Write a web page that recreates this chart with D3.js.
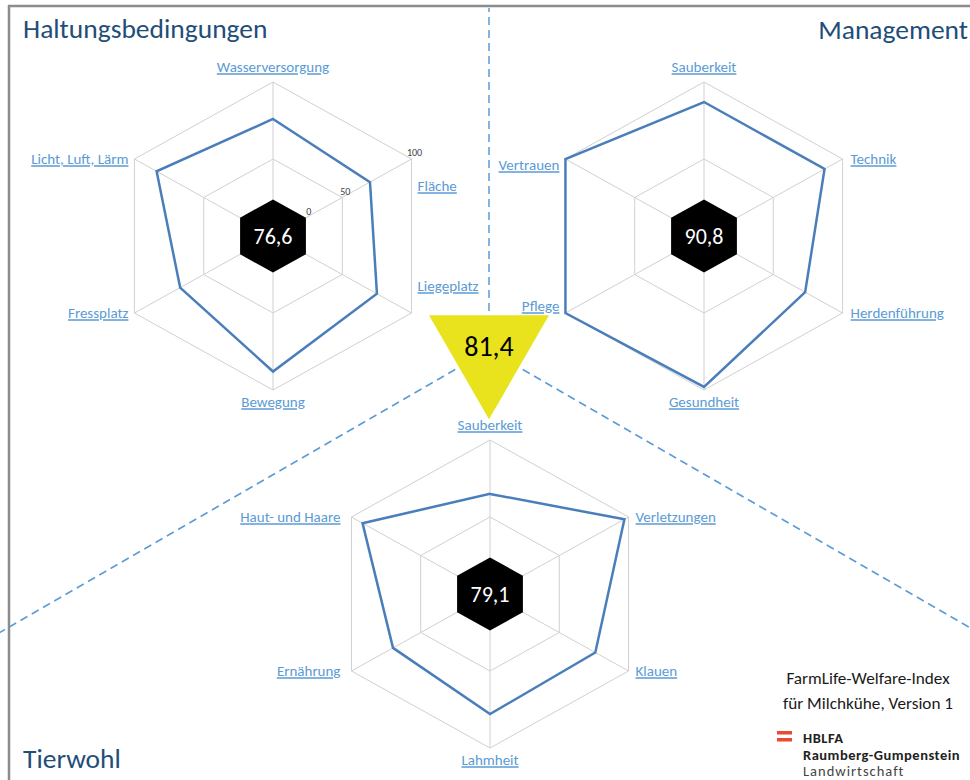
<!DOCTYPE html>
<html>
<head>
<meta charset="utf-8">
<script src="https://cdn.jsdelivr.net/npm/d3@7"></script>
<style>
  body { margin: 0; background: #fff; }
  svg { display: block; font-family: Carlito, Calibri, Lato, sans-serif; }
  .grid { fill: none; stroke: #d0d0d0; stroke-width: 1; }
  .series { fill: none; stroke: #4a7ebb; stroke-width: 2.5; stroke-linejoin: miter; }
  .cat { fill: #5b9bd5; font-size: 15px; text-decoration: underline; }
  .tick { fill: #404040; font-size: 10px; }
  .title { fill: #1f4e79; font-size: 27.5px; }
  .divider { stroke: #5b9bd5; stroke-width: 1.5; stroke-dasharray: 8 5; fill: none; }
</style>
</head>
<body>
<div id="chart"></div>
<script>
// categories and values
const haltungLabels = ["Wasserversorgung", "Fläche", "Liegeplatz", "Bewegung", "Fressplatz", "Licht, Luft, Lärm"];
const haltungValues = [76, 70, 75, 88, 67, 84];

const managementLabels = ["Sauberkeit", "Technik", "Herdenführung", "Gesundheit", "Pflege", "Vertrauen"];
const managementValues = [87, 87, 73, 98, 100, 100];

const tierwohlLabels = ["Sauberkeit", "Verletzungen", "Klauen", "Lahmheit", "Ernährung", "Haut- und Haare"];
const tierwohlValues = [65, 97, 76, 78, 70, 92];

const sectionTitles = ["Haltungsbedingungen", "Management", "Tierwohl"];
const sectionScores = ["76,6", "90,8", "79,1"];
const totalScore = "81,4";
const tickValues = [0, 50, 100];
const footerLines = ["FarmLife-Welfare-Index", "für Milchkühe, Version 1"];
const logoLines = ["HBLFA", "Raumberg-Gumpenstein", "Landwirtschaft"];

const width = 970, height = 780;

const svg = d3.select("#chart").append("svg")
  .attr("width", width)
  .attr("height", height);

// frame (top and left edge visible)
svg.append("line").attr("x1", 8).attr("x2", width).attr("y1", 6).attr("y2", 6)
  .attr("stroke", "#8c8c8c").attr("stroke-width", 2.5);
svg.append("line").attr("x1", 9).attr("x2", 9).attr("y1", 5).attr("y2", height)
  .attr("stroke", "#8c8c8c").attr("stroke-width", 2.5);

// dashed dividers out from the centre of the total-score triangle
const hub = [489, 350];
const dividerAngles = [-90, 150, 30]; // degrees
const dividerLen = 620;
svg.append("g").selectAll("line")
  .data(dividerAngles)
  .join("line")
  .attr("class", "divider")
  .attr("x1", hub[0]).attr("y1", hub[1])
  .attr("x2", d => hub[0] + dividerLen * Math.cos(d * Math.PI / 180))
  .attr("y2", d => Math.max(8, hub[1] + dividerLen * Math.sin(d * Math.PI / 180)));

// radial scale: the "0" ring is the black centre hexagon
const hexR = 38;
const r = d3.scaleLinear().domain([0, 50, 100]).range([hexR, 80, 160]);
const angle = d3.scaleLinear().domain([0, 6]).range([0, 2 * Math.PI]);
const squashY = 0.9625;

function radar({ cx, cy, labels, values, score, ticks = false, nudge = [], padL = 6, padR = 6 }) {
  const g = svg.append("g").attr("transform", `translate(${cx},${cy})`);
  const pt = (i, v) => [r(v) * Math.sin(angle(i)), -r(v) * Math.cos(angle(i)) * squashY];
  const line = d3.line().curve(d3.curveLinearClosed);

  // rings and spokes
  g.selectAll(".ring")
    .data([50, 100])
    .join("path")
    .attr("class", "grid ring")
    .attr("d", v => line(labels.map((_, i) => pt(i, v))));
  g.selectAll(".spoke")
    .data(labels)
    .join("line")
    .attr("class", "grid spoke")
    .attr("x1", 0).attr("y1", 0)
    .attr("x2", (_, i) => pt(i, 100)[0])
    .attr("y2", (_, i) => pt(i, 100)[1]);

  // series
  g.append("path")
    .attr("class", "series")
    .attr("d", line(values.map((v, i) => pt(i, v))));

  // black centre hexagon with the section score
  g.append("path")
    .attr("fill", "#000")
    .attr("d", line(labels.map((_, i) => [hexR * Math.sin(angle(i)), -hexR * Math.cos(angle(i)) * squashY])));
  g.append("text")
    .attr("text-anchor", "middle")
    .attr("dy", "0.35em")
    .attr("fill", "#fff")
    .style("font-size", "22px")
    .text(score);

  // category labels
  g.selectAll(".cat")
    .data(labels)
    .join("text")
    .attr("class", "cat")
    .each(function (d, i) {
      const [x, y] = pt(i, 100);
      const s = Math.sin(angle(i));
      const el = d3.select(this);
      if (Math.abs(s) < 0.01) {
        el.attr("x", x).attr("text-anchor", "middle")
          .attr("y", y < 0 ? y - 15 : y + 12).attr("dy", "0.35em");
      } else {
        el.attr("x", s > 0 ? x + padR : x - padL)
          .attr("text-anchor", s > 0 ? "start" : "end")
          .attr("y", y + (nudge[i] || 0)).attr("dy", "0.35em");
      }
    })
    .text(d => d);

  // value axis ticks along the upper right spoke
  if (ticks) {
    g.selectAll(".tick")
      .data(tickValues)
      .join("text")
      .attr("class", "tick")
      .attr("text-anchor", "middle")
      .attr("x", v => pt(1, v)[0] + 3)
      .attr("y", v => pt(1, v)[1] - 3)
      .text(v => v);
  }
}

radar({ cx: 273, cy: 236, labels: haltungLabels, values: haltungValues, score: sectionScores[0], ticks: true, nudge: [0, 27, -27] });
radar({ cx: 704, cy: 236, labels: managementLabels, values: managementValues, score: sectionScores[1], nudge: [0, 0, 0, 0, -7, 6], padR: 8 });
radar({ cx: 490, cy: 594, labels: tierwohlLabels, values: tierwohlValues, score: sectionScores[2], padL: 11, padR: 7 });

// total score triangle
const tri = 120;
const triH = tri * Math.sqrt(3) / 2;
const tg = svg.append("g").attr("transform", `translate(${hub[0]},${hub[1]})`);
tg.append("path")
  .attr("fill", "#e8e31d")
  .attr("d", d3.line()([[-tri / 2, -triH / 3], [tri / 2, -triH / 3], [0, triH * 2 / 3]]) + "Z");
tg.append("text")
  .attr("text-anchor", "middle")
  .attr("y", -4)
  .attr("dy", "0.35em")
  .attr("fill", "#000")
  .style("font-size", "28px")
  .text(totalScore);

// section titles
svg.append("text").attr("class", "title").attr("x", 23).attr("y", 38).text(sectionTitles[0]);
svg.append("text").attr("class", "title").attr("x", 968).attr("y", 39).attr("text-anchor", "end").text(sectionTitles[1]);
svg.append("text").attr("class", "title").attr("x", 23).attr("y", 768).text(sectionTitles[2]);

// footer
svg.append("g").selectAll("text")
  .data(footerLines)
  .join("text")
  .attr("x", 868)
  .attr("y", (d, i) => 684 + i * 25)
  .attr("text-anchor", "middle")
  .attr("fill", "#1a1a1a")
  .style("font-size", "17.2px")
  .text(d => d);

// logo
const logo = svg.append("g").attr("transform", "translate(777,731)");
logo.selectAll("rect")
  .data([0, 1])
  .join("rect")
  .attr("x", 0).attr("y", d => d * 7)
  .attr("width", 15).attr("height", 3.5)
  .attr("fill", "#ea4a2f");
logo.selectAll("text")
  .data(logoLines)
  .join("text")
  .attr("x", 26)
  .attr("y", (d, i) => 12 + i * 16.5)
  .attr("fill", (d, i) => i < 2 ? "#222" : "#444")
  .style("font-weight", (d, i) => i < 2 ? "600" : "normal")
  .style("font-size", "14.5px")
  .style("letter-spacing", (d, i) => i === 2 ? "1px" : "0.5px")
  .text(d => d);
</script>
</body>
</html>
